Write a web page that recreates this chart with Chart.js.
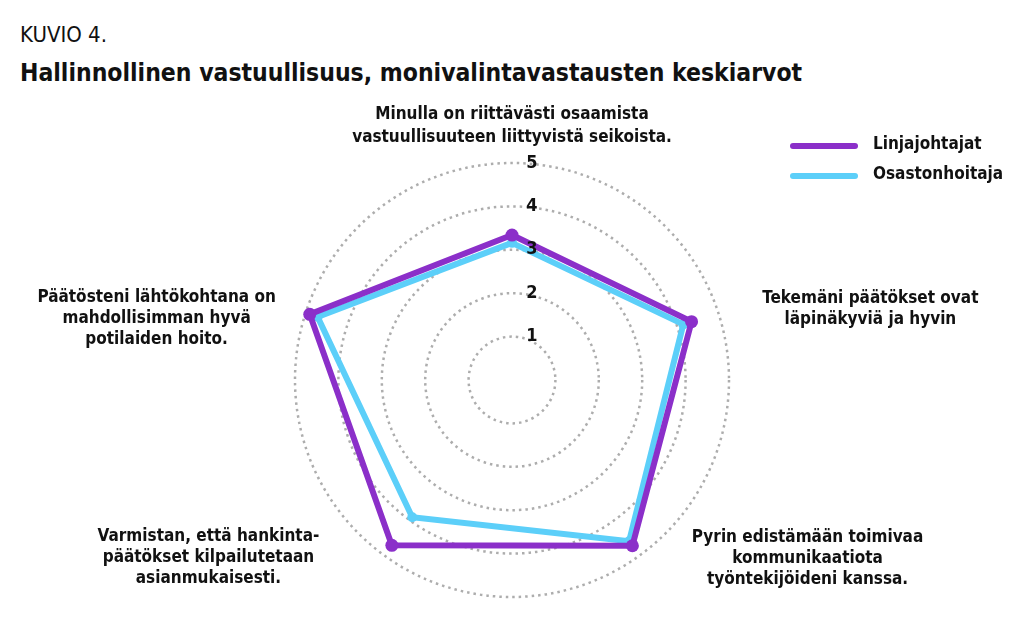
<!DOCTYPE html>
<html>
<head>
<meta charset="utf-8">
<script src="https://cdn.jsdelivr.net/npm/chart.js@4"></script>
<style>
  body { margin: 0; background: #fff; width: 1024px; height: 617px; overflow: hidden; position: relative;
         font-family: "Liberation Sans Narrow", "DejaVu Sans Condensed", sans-serif; }
  #kuvio { position: absolute; left: 20px; top: 22px; font-size: 22px; color: #111; }
  #title { position: absolute; left: 20px; top: 58px; font-size: 24.5px; font-weight: bold; color: #111; }
  #myChart { position: absolute; left: 0; top: 0; }
  .leg { position: absolute; left: 790px; font-size: 17px; font-weight: bold; color: #111; }
  .leg span.line { position: absolute; left: 0; width: 68px; height: 6px; border-radius: 3px; top: 8px; }
  .leg span.txt { position: absolute; left: 83px; top: -2px; white-space: nowrap; }
</style>
</head>
<body>
<div id="kuvio">KUVIO 4.</div>
<div id="title">Hallinnollinen vastuullisuus, monivalintavastausten keskiarvot</div>
<canvas id="myChart" width="1024" height="617"></canvas>
<div class="leg" style="top:135px"><span class="line" style="background:#8b2fc9"></span><span class="txt">Linjajohtajat</span></div>
<div class="leg" style="top:165px"><span class="line" style="background:#5ccff9"></span><span class="txt">Osastonhoitaja</span></div>
<script>
var categories = [
    ['Minulla on riittävästi osaamista', 'vastuullisuuteen liittyvistä seikoista.'],
    ['Tekemäni päätökset ovat', 'läpinäkyviä ja hyvin'],
    ['Pyrin edistämään toimivaa', 'kommunikaatiota', 'työntekijöideni kanssa.'],
    ['Varmistan, että hankinta-', 'päätökset kilpailutetaan', 'asianmukaisesti.'],
    ['Päätösteni lähtökohtana on', 'mahdollisimman hyvä', 'potilaiden hoito.']
];
var linjajohtajat = [3.34, 4.35, 4.72, 4.71, 4.9];
var osastonhoitaja = [3.16, 4.15, 4.59, 3.91, 4.71];
var tickValues = [1, 2, 3, 4, 5];

// label centre offsets from the end of each axis (layout only)
var labelOffsets = [[0, -37], [152, -4], [168, 3], [-176, 2], [-149, 6]];
var labelFont = 'bold 17px "Liberation Sans Narrow", "DejaVu Sans Condensed", sans-serif';
var tickFont = 'bold 18px "Liberation Sans Narrow", "DejaVu Sans Condensed", sans-serif';

var radarText = {
    id: 'radarText',
    afterDatasetsDraw: function(chart) {
        var scale = chart.scales.r;
        var ctx = chart.ctx;
        ctx.save();
        ctx.fillStyle = '#111';
        ctx.textAlign = 'center';
        ctx.textBaseline = 'middle';
        // tick labels, right of the vertical axis
        ctx.font = tickFont;
        tickValues.forEach(function(v) {
            var d = scale.getDistanceFromCenterForValue(v);
            ctx.fillText(String(v), scale.xCenter + 20, scale.yCenter - d);
        });
        // point labels
        ctx.font = labelFont;
        categories.forEach(function(lines, i) {
            var p = scale.getPointPosition(i, scale.drawingArea);
            var cx = p.x + labelOffsets[i][0];
            var cy = p.y + labelOffsets[i][1];
            var lh = i === 0 ? 23 : 21;
            var y0 = cy - (lines.length - 1) * lh / 2;
            lines.forEach(function(t, k) {
                ctx.fillText(t, cx, y0 + k * lh);
            });
        });
        ctx.restore();
    }
};

var ctx = document.getElementById('myChart').getContext('2d');
var chart = new Chart(ctx, {
    type: 'radar',
    data: {
        labels: categories,
        datasets: [{
            label: 'Linjajohtajat',
            data: linjajohtajat,
            borderColor: '#8b2fc9',
            backgroundColor: '#8b2fc9',
            pointBackgroundColor: '#8b2fc9',
            borderWidth: 6,
            pointRadius: 6.5,
            pointBorderWidth: 0,
            fill: false,
            tension: 0
        }, {
            label: 'Osastonhoitaja',
            data: osastonhoitaja,
            borderColor: '#5ccff9',
            backgroundColor: '#5ccff9',
            pointBackgroundColor: '#5ccff9',
            borderWidth: 6,
            pointRadius: 5,
            pointBorderWidth: 0,
            fill: false,
            tension: 0
        }]
    },
    options: {
        responsive: false,
        animation: false,
        layout: { padding: { left: 295, right: 295, top: 163, bottom: 20 } },
        plugins: { legend: { display: false }, tooltip: { enabled: false } },
        scales: {
            r: {
                min: 0,
                max: 5,
                ticks: { display: false, stepSize: 1 },
                pointLabels: { display: false },
                angleLines: { display: false },
                grid: { circular: true, color: '#adadad', lineWidth: 2.5 },
                border: { dash: [2.5, 4] }
            }
        }
    },
    plugins: [radarText]
});
</script>
</body>
</html>
